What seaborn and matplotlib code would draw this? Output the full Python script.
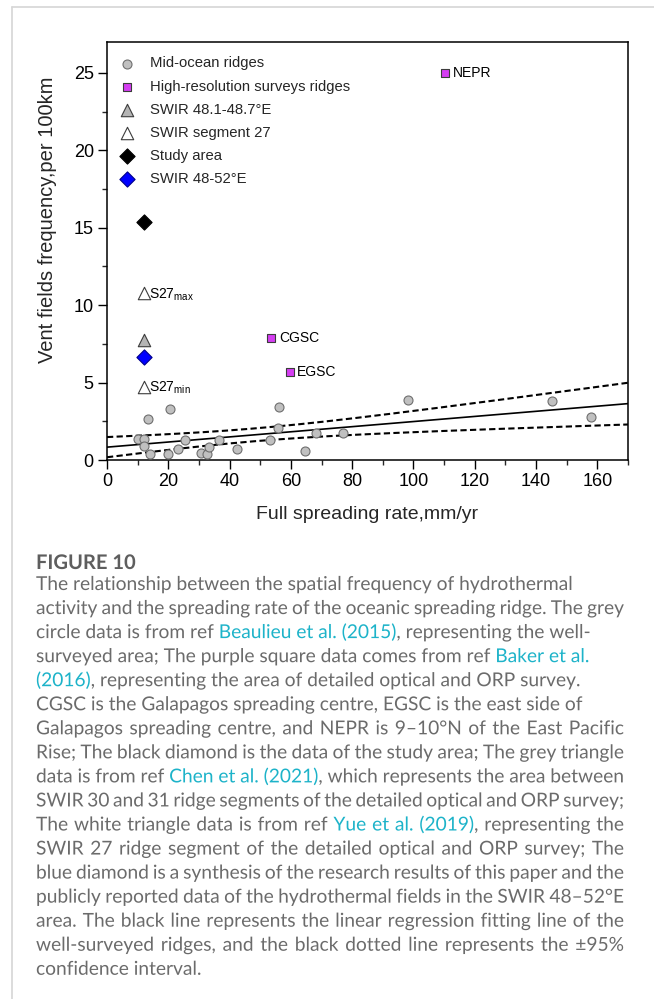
import numpy as np
import pandas as pd
import matplotlib
matplotlib.use("Agg")
import matplotlib.pyplot as plt
from matplotlib.lines import Line2D
from matplotlib.ticker import MultipleLocator
from matplotlib.transforms import Affine2D
from matplotlib.textpath import TextPath, text_to_path
from matplotlib.patches import PathPatch
from matplotlib.font_manager import FontProperties
import seaborn as sns

# ---------------- data ----------------
ridge_rate = [10.0, 12.1, 12.0, 13.5, 14.0, 20.5, 19.9, 23.2, 25.5, 30.8, 32.6, 33.2,
              36.4, 42.3, 53.3, 55.8, 56.1, 64.5, 68.1, 77.1, 98.1, 145.2, 158.0]
ridge_freq = [1.34, 1.38, 0.90, 2.63, 0.39, 3.27, 0.39, 0.69, 1.29, 0.43, 0.39, 0.86,
              1.29, 0.73, 1.29, 2.09, 3.44, 0.56, 1.72, 1.77, 3.88, 3.83, 2.76]

hr_names = ["NEPR", "CGSC", "EGSC"]
hr_rate = [110.3, 53.6, 59.6]
hr_freq = [25.0, 7.86, 5.66]

swir_grey_rate = [12.0]
swir_grey_freq = [7.75]

s27_labels = ["max", "min"]
s27_rate = [12.0, 12.0]
s27_freq = [10.77, 4.74]

study_rate = [12.0]
study_freq = [15.4]

swir4852_rate = [12.0]
swir4852_freq = [6.63]

legend_labels = ["Mid-ocean ridges", "High-resolution surveys ridges", "SWIR 48.1-48.7°E",
                 "SWIR segment 27", "Study area", "SWIR 48-52°E"]

x_label = "Full spreading rate,mm/yr"
y_label = "Vent fields frequency,per 100km"

caption_title = "FIGURE 10"
caption_lines = [
    "The relationship between the spatial frequency of hydrothermal",
    "activity and the spreading rate of the oceanic spreading ridge. The grey",
    "circle data is from ref [Beaulieu et al. (2015)], representing the well-",
    "surveyed area; The purple square data comes from ref [Baker et al.]",
    "[(2016)], representing the area of detailed optical and ORP survey.",
    "CGSC is the Galapagos spreading centre, EGSC is the east side of",
    "Galapagos spreading centre, and NEPR is 9–10°N of the East Pacific",
    "Rise; The black diamond is the data of the study area; The grey triangle",
    "data is from ref [Chen et al. (2021)], which represents the area between",
    "SWIR 30 and 31 ridge segments of the detailed optical and ORP survey;",
    "The white triangle data is from ref [Yue et al. (2019)], representing the",
    "SWIR 27 ridge segment of the detailed optical and ORP survey; The",
    "blue diamond is a synthesis of the research results of this paper and the",
    "publicly reported data of the hydrothermal fields in the SWIR 48–52°E",
    "area. The black line represents the linear regression fitting line of the",
    "well-surveyed ridges, and the black dotted line represents the ±95%",
    "confidence interval.",
]

# ---------------- style ----------------
sns.set_theme(style="ticks")
plt.rcParams["font.family"] = ["Liberation Sans", "DejaVu Sans"]
plt.rcParams["mathtext.fontset"] = "custom"
plt.rcParams["mathtext.rm"] = "Liberation Sans"
plt.rcParams["mathtext.it"] = "Liberation Sans"

W, H = 654, 999
fig = plt.figure(figsize=(W / 100, H / 100), dpi=100)
fig.patch.set_facecolor("white")

ax_l, ax_r, ax_t, ax_b = 107, 628, 42, 460
ax = fig.add_axes([ax_l / W, 1 - ax_b / H, (ax_r - ax_l) / W, (ax_b - ax_t) / H])

XMAX, YMAX = 170, 27
ax.set_xlim(0, XMAX)
ax.set_ylim(0, YMAX)

# regression line (seaborn) and 95% confidence band as dashed lines
ridge_df = pd.DataFrame({"rate": ridge_rate, "freq": ridge_freq})
sns.regplot(data=ridge_df, x="rate", y="freq", ax=ax, scatter=False, ci=None,
            truncate=False, color="black", line_kws=dict(lw=1.2, zorder=2))

xr = np.asarray(ridge_rate)
yr = np.asarray(ridge_freq)
n = len(xr)
b, a = np.polyfit(xr, yr, 1)
resid = yr - (a + b * xr)
s = np.sqrt(np.sum(resid ** 2) / (n - 2))
sxx = np.sum((xr - xr.mean()) ** 2)
t975 = 2.080  # Student t, 0.975 quantile, df = 21
xx = np.linspace(0, XMAX, 200)
half = t975 * s * np.sqrt(1 / n + (xx - xr.mean()) ** 2 / sxx)
band = pd.DataFrame({"x": np.concatenate([xx, xx]),
                     "y": np.concatenate([a + b * xx + half, a + b * xx - half]),
                     "side": ["upper"] * len(xx) + ["lower"] * len(xx)})
for side in ["upper", "lower"]:
    sub = band[band["side"] == side]
    sns.lineplot(data=sub, x="x", y="y", ax=ax, color="black", lw=1.5,
                 dashes=False, zorder=2, legend=False, estimator=None,
                 sort=False).lines[-1].set_dashes((3.0, 1.6))

# scatter groups
sns.scatterplot(x=ridge_rate, y=ridge_freq, ax=ax, marker="o", s=42,
                color="#c0c0c0", edgecolor="#6e6e6e", linewidth=0.8, zorder=3,
                label=legend_labels[0])
sns.scatterplot(x=hr_rate, y=hr_freq, ax=ax, marker="s", s=34,
                color="#d53ef2", edgecolor="#3c3c3c", linewidth=0.8, zorder=3,
                label=legend_labels[1])
sns.scatterplot(x=swir_grey_rate, y=swir_grey_freq, ax=ax, marker="^", s=80,
                color="#b4b4b4", edgecolor="#3c3c3c", linewidth=0.8, zorder=3,
                label=legend_labels[2])
sns.scatterplot(x=s27_rate, y=s27_freq, ax=ax, marker="^", s=80,
                color="white", edgecolor="#3c3c3c", linewidth=0.8, zorder=3,
                label=legend_labels[3])
sns.scatterplot(x=study_rate, y=study_freq, ax=ax, marker="D", s=60,
                color="black", edgecolor="black", linewidth=0.8, zorder=3,
                label=legend_labels[4])
sns.scatterplot(x=swir4852_rate, y=swir4852_freq, ax=ax, marker="D", s=60,
                color="#0000ff", edgecolor="#00008b", linewidth=0.8, zorder=3,
                label=legend_labels[5])

# point annotations
for name, xv, yv in zip(hr_names, hr_rate, hr_freq):
    ax.annotate(name, (xv, yv), xytext=(5.5, 0), textcoords="offset points",
                va="center", ha="left", fontsize=10, color="black")
for lab, xv, yv in zip(s27_labels, s27_rate, s27_freq):
    ax.annotate("S27$_{\\mathrm{%s}}$" % lab, (xv, yv), xytext=(3.6, -3.6),
                textcoords="offset points", va="baseline", ha="left",
                fontsize=10, color="black")

# legend
leg_x = (120 - ax_l) / (ax_r - ax_l)
leg_y = (ax_b - 56.5) / (ax_b - ax_t)
ax.legend(loc="upper left", bbox_to_anchor=(leg_x, leg_y), frameon=False,
          fontsize=10.7, handlelength=1.0, handletextpad=1.0, labelspacing=0.615,
          borderpad=0, borderaxespad=0)

# axes cosmetics
for sp in ax.spines.values():
    sp.set_visible(True)
    sp.set_linewidth(1.1)
    sp.set_color("black")
ax.xaxis.set_major_locator(MultipleLocator(20))
ax.xaxis.set_minor_locator(MultipleLocator(10))
ax.yaxis.set_major_locator(MultipleLocator(5))
ax.yaxis.set_minor_locator(MultipleLocator(2.5))
ax.tick_params(which="major", direction="out", length=6.5, width=1.0, labelsize=13,
               pad=3, colors="black", top=False, right=False)
ax.tick_params(which="minor", direction="out", length=3.6, width=1.0,
               top=False, right=False)
ax.set_xlabel(x_label, fontsize=14, labelpad=11.5)
ax.set_ylabel(y_label, fontsize=14.5)
ax.yaxis.set_label_coords((57 - ax_l) / (ax_r - ax_l), (ax_b - 220) / (ax_b - ax_t))
ax.grid(False)

# card border
fig.add_artist(Line2D([12 / W, 1], [1 - 7 / H, 1 - 7 / H], transform=fig.transFigure,
                      color="#d6d6d6", lw=1.2))
fig.add_artist(Line2D([12 / W, 12 / W], [1 - 7 / H, 0], transform=fig.transFigure,
                      color="#d6d6d6", lw=1.2))

# ---------------- caption (text drawn as glyph paths for exact placement) ----------------
cap_font = "Lato"
cap_px = 13.8 * 100 / 72
title_px = 14.5 * 100 / 72
grey = "#6b6b6b"
link = "#1db3c9"
left_px, right_px = 36, 624
fp_body = FontProperties(family=cap_font, size=cap_px)
fp_title = FontProperties(family=cap_font, size=title_px, weight="bold")


def measure(txt, prop):
    w, h, d = text_to_path.get_text_width_height_descent(txt, prop, ismath=False)
    return w


def put(txt, x, y, prop, color):
    tp = TextPath((0, 0), txt, prop=prop)
    patch = PathPatch(tp, transform=Affine2D().translate(x, H - y),
                      facecolor=color, edgecolor="none", lw=0)
    fig.add_artist(patch)


def parse(line):
    words = [[]]
    buf = ""
    is_link = False
    for ch in line:
        if ch in "[]":
            if buf:
                words[-1].append((buf, is_link))
            buf = ""
            is_link = (ch == "[")
        elif ch == " ":
            if buf:
                words[-1].append((buf, is_link))
            buf = ""
            words.append([])
        else:
            buf += ch
    if buf:
        words[-1].append((buf, is_link))
    return [w for w in words if w]


space_w = measure("x x", fp_body) - measure("xx", fp_body)

put(caption_title, left_px, 569, fp_title, "#5e5e5e")

base0, step = 590, 24.05
target = right_px - left_px
for i, line in enumerate(caption_lines):
    words = parse(line)
    widths = [[measure(p, fp_body) for p, _ in w] for w in words]
    total_words = sum(sum(ws) for ws in widths)
    natural = total_words + space_w * (len(words) - 1)
    if i < len(caption_lines) - 1 and natural > 0.95 * target and len(words) > 1:
        gap = (target - total_words) / (len(words) - 1)
    else:
        gap = space_w
    x = left_px
    y = base0 + i * step
    for w, ws in zip(words, widths):
        xp = x
        for (p, lk), pw in zip(w, ws):
            put(p, xp, y, fp_body, link if lk else grey)
            xp += pw
        x += sum(ws) + gap

fig.savefig("out.png", dpi=100)
